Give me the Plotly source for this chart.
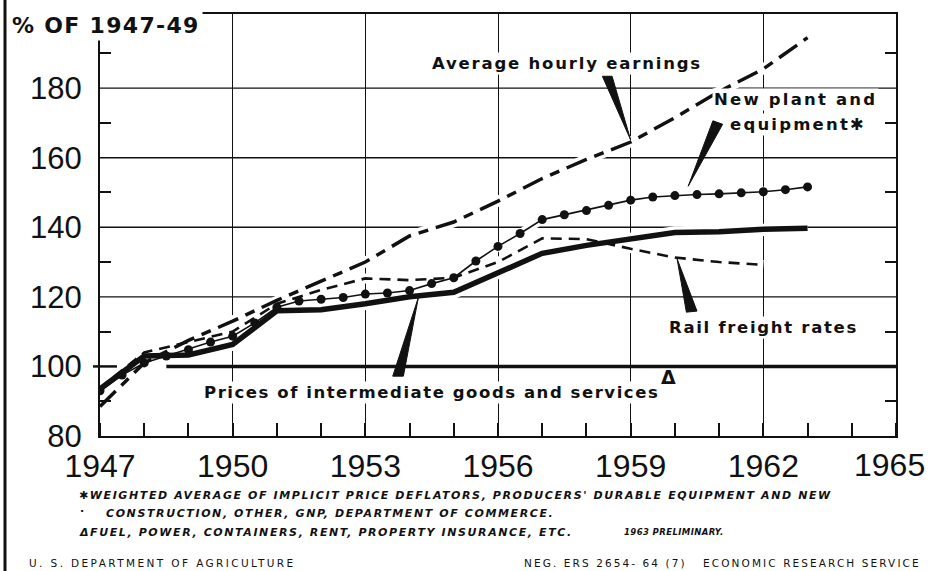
import plotly.graph_objects as go

# ---- data (index, 1947-49 = 100) ----
years = list(range(1947, 1964))
hourly_earnings = [88.5, 101, 107.5, 113, 119, 124.5, 130, 137.5, 141.5,
                   147.5, 154, 159.5, 164.5, 171.5, 179, 185.5, 194.5]
intermediate_prices = [93.5, 103, 103.3, 106.3, 116, 116.3, 118, 120, 121.3,
                       127, 132.5, 134.8, 136.8, 138.5, 138.7, 139.4, 139.7]
rail_years = list(range(1947, 1963))
rail_freight = [93.8, 104, 107, 110, 118, 122, 125.3, 124.8, 125.5,
                130, 136.8, 136.6, 133.8, 131.3, 130, 129.2]
plant_half_years = [1947 + 0.5 * i for i in range(33)]
plant_equipment = [93, 97.5, 101, 103, 104.8, 107, 108.7, 112.5, 117, 118.8,
                   119.3, 119.8, 120.8, 121.1, 121.8, 123.8, 125.5, 130.3,
                   134.5, 138.2, 142.2, 143.6, 144.8, 146.3, 147.8, 148.7,
                   149.1, 149.4, 149.6, 149.9, 150.2, 150.8, 151.6]

x_ticks = [1947, 1950, 1953, 1956, 1959, 1962, 1965]
x_tick_labels = [str(y) for y in x_ticks]
y_ticks = [80, 100, 120, 140, 160, 180]
y_tick_labels = [str(v) for v in y_ticks]
y_minor = [90, 110, 130, 150, 170, 190]
grid_levels = [120, 140, 160, 180]
base_level = 100

INK = "#111111"
W, H = 929, 571
ML, MR, MT, MB = 100, 33, 14, 135
PW, PH = W - ML - MR, H - MT - MB


def px_x(px):
    return (px - ML) / PW


def px_y(py):
    return (H - MB - py) / PH


def interp(xs, ys, x):
    for i in range(len(xs) - 1):
        if xs[i] <= x <= xs[i + 1]:
            t = (x - xs[i]) / (xs[i + 1] - xs[i])
            return ys[i] + t * (ys[i + 1] - ys[i])
    return ys[-1]


def spaced(text, px, bold=True, italic=False):
    inner = f'<span style="letter-spacing:{px}px">{text}</span>'
    if italic:
        inner = f"<i>{inner}</i>"
    if bold:
        inner = f"<b>{inner}</b>"
    return inner


fig = go.Figure()

series = [
    (years, hourly_earnings, dict(width=3.5, dash="22px,8px,10px,8px"), "lines", None),
    (rail_years, rail_freight, dict(width=2.6, dash="11px,7px"), "lines", None),
    (plant_half_years, plant_equipment, dict(width=1.6), "lines+markers",
     dict(size=9, color=INK)),
    (years, intermediate_prices, dict(width=5.5), "lines", None),
]

# white halo under every line so the grid breaks where curves cross it
for xs, ys, ln, mode, mk in series:
    fig.add_trace(go.Scatter(x=xs, y=ys, mode="lines",
                             line=dict(color="white", width=ln["width"] + 7),
                             hoverinfo="skip", showlegend=False))
for xs, ys, ln, mode, mk in series:
    line = dict(color=INK, **ln)
    kw = dict(marker=mk) if mk else {}
    fig.add_trace(go.Scatter(x=xs, y=ys, mode=mode, line=line,
                             hoverinfo="skip", showlegend=False, **kw))

shapes = []
for lvl in grid_levels:
    shapes.append(dict(type="line", xref="paper", yref="y", x0=0, x1=1,
                       y0=lvl, y1=lvl, layer="below",
                       line=dict(color=INK, width=1.4)))
# heavy base line at 100
shapes.append(dict(type="line", xref="x", yref="y", x0=1948.5, x1=1965,
                   y0=base_level, y1=base_level, layer="below",
                   line=dict(color=INK, width=3.5)))
shapes.append(dict(type="line", xref="paper", yref="y", x0=px_x(93), x1=px_x(117),
                   y0=base_level, y1=base_level, line=dict(color=INK, width=2.5)))
# page edge rule at far left
shapes.append(dict(type="line", xref="paper", yref="paper", x0=px_x(5), x1=px_x(5),
                   y0=px_y(0), y1=px_y(571), line=dict(color=INK, width=3)))


def wedge(tip, base_a, base_b):
    return dict(type="path", xref="x", yref="y", fillcolor=INK,
                line=dict(color=INK, width=1),
                path=f"M {base_a[0]},{base_a[1]} L {base_b[0]},{base_b[1]} "
                     f"L {tip[0]},{tip[1]} Z")


# leader wedges from labels to curves
e_tip = (1959.0, hourly_earnings[years.index(1959)] + 0.6)
shapes.append(wedge(e_tip, (1958.36, 183.4), (1958.58, 183.4)))
p_tip = (1960.3, interp(plant_half_years, plant_equipment, 1960.3) + 2.5)
shapes.append(wedge(p_tip, (1960.86, 170.6), (1961.08, 169.6)))
r_tip = (1960.05, interp(rail_years, rail_freight, 1960.05) - 0.3)
shapes.append(wedge(r_tip, (1960.26, 115.6), (1960.5, 115.9)))
i_tip = (1954.2, interp(years, intermediate_prices, 1954.2) - 0.4)
shapes.append(wedge(i_tip, (1953.62, 97.2), (1953.86, 97.2)))

LABEL_FONT = dict(family="DejaVu Sans", size=16.5, color=INK)
NOTE_FONT = dict(family="DejaVu Sans", size=11, color=INK)
FOOT_FONT = dict(family="DejaVu Sans", size=10.5, color=INK)
TICK_FONT = dict(family="Liberation Sans", size=32, color=INK)

annotations = [
    dict(text=spaced("% OF 1947-49", 1.3), xref="paper", yref="paper",
         x=px_x(9), y=px_y(26), xanchor="left", yanchor="middle",
         showarrow=False, bgcolor="white", borderpad=2,
         font=dict(family="DejaVu Sans", size=22, color=INK)),
    dict(text=spaced("Average hourly earnings", 1.8), x=1957.55, y=187.2,
         showarrow=False, bgcolor="white", font=LABEL_FONT),
    dict(text=spaced("New plant and", 2.2), x=1962.73, y=176.8,
         showarrow=False, bgcolor="white", font=LABEL_FONT),
    dict(text=spaced("equipment✱", 2.2), x=1962.78, y=169.6,
         showarrow=False, bgcolor="white", font=LABEL_FONT),
    dict(text=spaced("Rail freight rates", 1.7), x=1962.0, y=111.3,
         showarrow=False, bgcolor="white", font=LABEL_FONT),
    dict(text=spaced("Prices of intermediate goods and services", 1.55),
         x=1954.49, y=92.6, showarrow=False, bgcolor="white", font=LABEL_FONT),
    dict(text="<b>Δ</b>", x=1959.85, y=97.0, showarrow=False,
         font=dict(family="DejaVu Sans", size=19, color=INK)),
    # last year label sits against the right edge of the page
    dict(text=x_tick_labels[-1], xref="paper", yref="paper",
         x=px_x(927), y=px_y(465), xanchor="right", yanchor="middle",
         showarrow=False, font=TICK_FONT),
    # footnotes
    dict(text=spaced("✱WEIGHTED AVERAGE OF IMPLICIT PRICE DEFLATORS, PRODUCERS' "
                     "DURABLE EQUIPMENT AND NEW", 1.6, italic=True),
         xref="paper", yref="paper", x=px_x(77), y=px_y(495),
         xanchor="left", yanchor="middle", showarrow=False, font=NOTE_FONT),
    dict(text="<b>.</b>", xref="paper", yref="paper", x=px_x(78), y=px_y(508),
         xanchor="left", yanchor="middle", showarrow=False, font=NOTE_FONT),
    dict(text=spaced("CONSTRUCTION, OTHER, GNP, DEPARTMENT OF COMMERCE.", 1.6, italic=True),
         xref="paper", yref="paper", x=px_x(104), y=px_y(513),
         xanchor="left", yanchor="middle", showarrow=False, font=NOTE_FONT),
    dict(text=spaced("ΔFUEL, POWER, CONTAINERS, RENT, PROPERTY INSURANCE, ETC.", 1.6,
                     italic=True),
         xref="paper", yref="paper", x=px_x(77), y=px_y(532),
         xanchor="left", yanchor="middle", showarrow=False, font=NOTE_FONT),
    dict(text=spaced("1963 PRELIMINARY.", 0.4, italic=True),
         xref="paper", yref="paper", x=px_x(622), y=px_y(532),
         xanchor="left", yanchor="middle", showarrow=False,
         font=dict(family="DejaVu Sans", size=8.5, color=INK)),
    dict(text=spaced("U. S. DEPARTMENT OF AGRICULTURE", 2.4, bold=False),
         xref="paper", yref="paper", x=px_x(27), y=px_y(563),
         xanchor="left", yanchor="middle", showarrow=False, font=FOOT_FONT),
    dict(text=spaced("NEG. ERS 2654- 64 (7)   ECONOMIC RESEARCH SERVICE", 2.1, bold=False),
         xref="paper", yref="paper", x=px_x(522), y=px_y(563),
         xanchor="left", yanchor="middle", showarrow=False, font=FOOT_FONT),
]

fig.update_layout(
    width=W, height=H,
    margin=dict(l=ML, r=MR, t=MT, b=MB, autoexpand=False),
    paper_bgcolor="white", plot_bgcolor="white",
    showlegend=False,
    shapes=shapes,
    annotations=annotations,
    xaxis=dict(
        range=[1947, 1965], tickvals=x_ticks,
        ticktext=x_tick_labels[:-1] + [""],
        ticks="", showgrid=True, gridcolor=INK, gridwidth=1.4,
        showline=True, linecolor=INK, linewidth=2, mirror=True,
        zeroline=False, ticklabelstandoff=1, automargin=False,
        tickfont=TICK_FONT,
        minor=dict(dtick=1, tick0=1947, ticks="inside", ticklen=13,
                   tickwidth=1.5, tickcolor=INK, showgrid=False),
    ),
    yaxis=dict(
        range=[80, 201.3], tickvals=y_ticks, ticktext=y_tick_labels,
        ticks="", showgrid=False, zeroline=False, automargin=False,
        showline=True, linecolor=INK, linewidth=2, mirror="allticks",
        ticklabelstandoff=10,
        tickfont=dict(family="Liberation Sans", size=31, color=INK),
        minor=dict(tickvals=y_minor, ticks="inside", ticklen=11,
                   tickwidth=1.5, tickcolor=INK, showgrid=False),
    ),
)

fig.write_html("out.html")
